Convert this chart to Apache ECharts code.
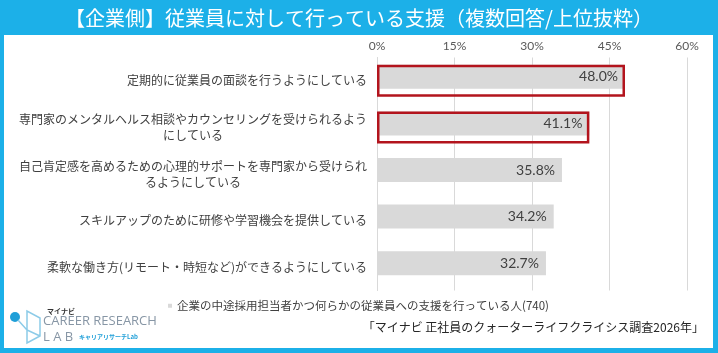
<!DOCTYPE html>
<html>
<head>
<meta charset="utf-8">
<script src="https://cdn.jsdelivr.net/npm/echarts@6/dist/echarts.min.js"></script>
<style>
  html, body { margin: 0; padding: 0; background: #fff; }
  #chart { width: 718px; height: 353px; }
</style>
</head>
<body>
<div id="chart"></div>
<script>
const titleText = '【企業側】従業員に対して行っている支援（複数回答/上位抜粋）';
const seriesName = '企業の中途採用担当者かつ何らかの従業員への支援を行っている人(740)';
const sourceText = '「マイナビ 正社員のクォーターライフクライシス調査2026年」';

const categories = [
  '定期的に従業員の面談を行うようにしている',
  '専門家のメンタルヘルス相談やカウンセリングを受けられるよう\nにしている',
  '自己肯定感を高めるための心理的サポートを専門家から受けられ\nるようにしている',
  'スキルアップのために研修や学習機会を提供している',
  '柔軟な働き方(リモート・時短など)ができるようにしている'
];
const values = [48.0, 41.1, 35.8, 34.2, 32.7];
const highlighted = [true, true, false, false, false];
const xTicks = [0, 15, 30, 45, 60];

const blue = '#1cb0e8';
const jp = '"Noto Sans CJK JP", "Noto Sans", sans-serif';

const chart = echarts.init(document.getElementById('chart'));

const option = {
  animation: false,
  textStyle: { fontFamily: jp },
  grid: { left: 377, right: 31, top: 57.5, bottom: 62.5 },
  legend: {
    left: 163,
    top: 295,
    icon: 'rect',
    itemWidth: 4,
    itemHeight: 4,
    data: [seriesName],
    textStyle: { fontSize: 11.5, color: '#404040', fontFamily: jp }
  },
  xAxis: {
    type: 'value',
    position: 'top',
    min: xTicks[0],
    max: xTicks[xTicks.length - 1],
    interval: xTicks[1] - xTicks[0],
    axisLine: { show: false },
    axisTick: { show: false },
    axisLabel: {
      margin: 5,
      fontSize: 12,
      color: '#595959',
      fontFamily: 'Lato, "Noto Sans", sans-serif',
      formatter: '{value}%'
    },
    splitLine: { lineStyle: { color: '#d9d9d9', width: 1 } }
  },
  yAxis: {
    type: 'category',
    inverse: true,
    data: categories,
    axisLine: { show: true, lineStyle: { color: '#d9d9d9' } },
    axisTick: { show: false },
    axisLabel: {
      margin: 10,
      fontSize: 12,
      color: '#404040',
      lineHeight: 16,
      formatter: (v) => v.split('\n').map((s) => '{c|' + s + '}').join('\n'),
      rich: { c: { align: 'center', fontSize: 12, lineHeight: 16, color: '#404040', fontFamily: jp } }
    }
  },
  series: [
    {
      name: seriesName,
      type: 'bar',
      data: values,
      barWidth: 24,
      itemStyle: { color: '#d9d9d9' },
      label: {
        show: true,
        position: 'insideRight',
        distance: 7,
        fontSize: 14,
        color: '#404040',
        fontFamily: 'Lato, "Noto Sans", sans-serif',
        formatter: (p) => p.value.toFixed(1) + '%'
      }
    },
    {
      name: 'highlight',
      type: 'bar',
      barGap: '-100%',
      barWidth: 32,
      silent: true,
      z: 3,
      data: values.map((v, i) => (highlighted[i] ? v : '-')),
      itemStyle: { color: 'rgba(0,0,0,0)', borderColor: '#b3141d', borderWidth: 2.5 }
    }
  ],
  graphic: [
    // frame
    { type: 'rect', left: 0, top: 0, shape: { width: 718, height: 35 }, style: { fill: blue }, silent: true },
    { type: 'rect', left: 0, top: 0, shape: { width: 4, height: 353 }, style: { fill: blue }, silent: true },
    { type: 'rect', left: 713, top: 0, shape: { width: 5, height: 353 }, style: { fill: blue }, silent: true },
    { type: 'rect', left: 0, top: 348, shape: { width: 718, height: 5 }, style: { fill: blue }, silent: true },
    {
      type: 'text', x: 359, y: 18, silent: true,
      style: { text: titleText, fill: '#fff', fontSize: 20, fontFamily: jp, align: 'center', verticalAlign: 'middle' }
    },
    {
      type: 'text', x: 704, y: 327, silent: true,
      style: { text: sourceText, fill: '#262626', fontSize: 12, fontFamily: jp, align: 'right', verticalAlign: 'middle' }
    },
    // logo
    { type: 'circle', shape: { cx: 15, cy: 317, r: 5 }, style: { fill: '#1f9fd8' }, silent: true },
    {
      type: 'polyline', silent: true,
      shape: { points: [[18, 320], [27, 330], [27, 343], [40, 336], [40, 318], [27, 311], [27, 330], [40, 336]] },
      style: { stroke: '#8ccbe8', lineWidth: 1.5, fill: null }
    },
    {
      type: 'text', x: 47, y: 311, silent: true,
      style: { text: 'マイナビ', fill: '#333', fontSize: 7, fontWeight: 'bold', fontFamily: jp, verticalAlign: 'middle' }
    },
    {
      type: 'text', x: 43, y: 321, silent: true,
      style: { text: 'CAREER RESEARCH', fill: '#8796a5', fontSize: 13, fontFamily: '"Open Sans", sans-serif', verticalAlign: 'middle' }
    },
    {
      type: 'text', x: 43, y: 337, silent: true,
      style: { text: 'L A B', fill: '#8796a5', fontSize: 13, fontFamily: '"Open Sans", sans-serif', verticalAlign: 'middle' }
    },
    {
      type: 'text', x: 79, y: 337, silent: true,
      style: { text: 'キャリアリサーチLab', fill: '#1f9fd8', fontSize: 6, fontWeight: 'bold', fontFamily: jp, verticalAlign: 'middle' }
    }
  ]
};

chart.setOption(option);
</script>
</body>
</html>
